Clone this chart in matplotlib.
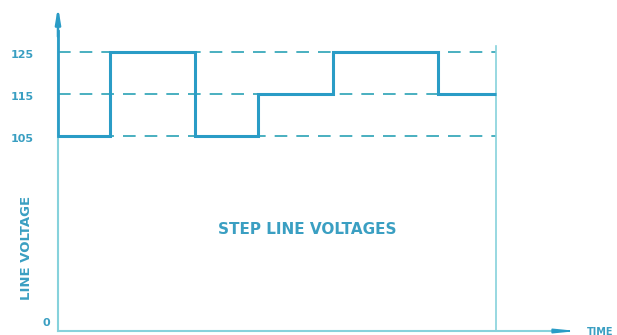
import numpy as np
import matplotlib
matplotlib.use("Agg")
import matplotlib.pyplot as plt

# data
edges = [0, 5.2, 13.7, 20.0, 27.5, 38.0, 43.8]
volts = [105, 125, 105, 115, 125, 115]
levels = [125, 115, 105]
tick_vals = [125, 115, 105, 0]
tick_labels = ["125", "115", "105", "0"]

BLUE = "#2a9cc6"
DASH = "#3aa9bb"
AXC = "#86d2dc"
TXT = "#3a9fc2"

A = 58.57
K = (100 - A) / 100.0

def fwd(v):
    v = np.asarray(v, dtype=float)
    return np.where(v >= 100, v, A + v * K)

def inv(y):
    y = np.asarray(y, dtype=float)
    return np.where(y >= 100, y, (y - A) / K)

fig = plt.figure(figsize=(6.17, 3.35), dpi=100)
ax = fig.add_axes([0, 0, 1, 1])
ax.set_yscale("function", functions=(fwd, inv))
ax.set_xlim(-5.8, 55.9)
ax.set_ylim(float(inv(57.62)), 137.38)
ax.axis("off")

end = edges[-1]
# dashed reference levels
for lv in levels:
    ax.plot([0, end], [lv, lv], color=DASH, lw=1.3, ls=(0, (7, 5)), zorder=2)

# right boundary
ax.plot([end, end], [0, 126.5], color=AXC, lw=1.2, zorder=2)

# step waveform
ax.stairs(volts, edges, baseline=None, color=BLUE, lw=2.2, zorder=3)
ax.plot([0, 0], [105, 130], color=BLUE, lw=2.0, zorder=3)

# axes
ax.plot([0, 0], [0, 130], color=AXC, lw=1.5, zorder=2)
ax.annotate("", xy=(0, 136.5), xytext=(0, 128),
            arrowprops=dict(arrowstyle="-|>,head_length=0.9,head_width=0.15",
                            color=BLUE, lw=1.8))
ax.plot([0, 50.5], [0, 0], color=AXC, lw=1.5, zorder=2)
ax.annotate("", xy=(52.2, 0), xytext=(50.3, 0),
            arrowprops=dict(arrowstyle="-|>,head_length=1.2,head_width=0.12",
                            color=BLUE, lw=1.2))

# tick labels
for v, lab in zip(tick_vals, tick_labels):
    xpos = -1.2 if v == 0 else -3.6
    ax.text(xpos, v + (4.6 if v == 0 else -0.6), lab, ha="center", va="center",
            color=TXT, fontsize=8, fontweight="bold")

ax.text(-3.1, 47.7, "LINE VOLTAGE", rotation=90, ha="center", va="center",
        color=TXT, fontsize=9.5, fontweight="bold")
ax.text(24.9, 58.6, "STEP LINE VOLTAGES", ha="center", va="center",
        color=TXT, fontsize=11, fontweight="bold")
ax.text(52.9, -0.3, "TIME", ha="left", va="center",
        color=TXT, fontsize=7, fontweight="bold")

fig.savefig("out.png", dpi=100)
